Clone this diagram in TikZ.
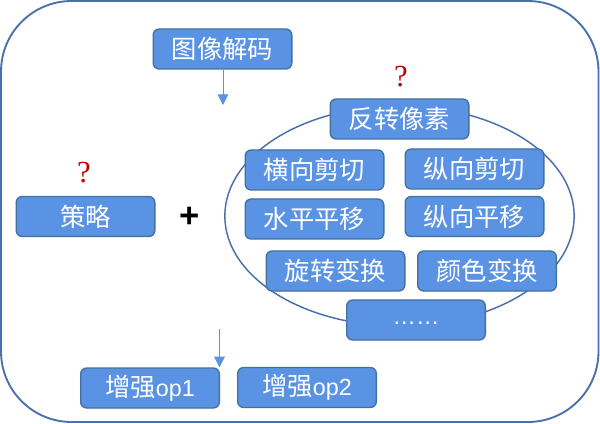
\documentclass[tikz,border=0pt]{standalone}
\usepackage{fontspec}
\setmainfont{Liberation Sans}
\newfontfamily\cjk{Noto Sans CJK SC}
\definecolor{boxfill}{HTML}{5B93E4}
\definecolor{boxedge}{HTML}{41719C}
\definecolor{frameedge}{HTML}{4A70AC}
\definecolor{arrowc}{HTML}{5B93E0}
\definecolor{qred}{HTML}{C00000}
\usetikzlibrary{arrows.meta,shapes.geometric}
\newcommand{\latintext}[1]{{\rmfamily\fontsize{17.5}{18}\selectfont #1}}
\tikzset{
  opbox/.style={draw=boxedge,line width=1pt,fill=boxfill,rounded corners=4.5pt,text=white,
    minimum width=104pt,minimum height=30pt,inner sep=0pt,font=\cjk\fontsize{19}{20}\selectfont},
  flow/.style={draw=arrowc,line width=0.7pt,-{Triangle[length=8pt,width=8pt]}},
  qmark/.style={text=qred,inner sep=0pt,font=\fontsize{23}{24}\selectfont\fontspec{Liberation Serif}}
}
\begin{document}
\begin{tikzpicture}[x=0.75pt,y=-0.75pt]
\useasboundingbox (0,0) rectangle (600,424);
\fill[white] (0,0) rectangle (600,424);
\draw[frameedge,line width=1.4pt,rounded corners=53pt] (1,1) rectangle (598.5,422);
\node[ellipse,draw=frameedge,line width=1.1pt,minimum width=262pt,minimum height=165pt,inner sep=0pt] (oval) at (399.5,216) {};
\node[opbox] (decode) at (222.5,49) {图像解码};
\node[opbox] (policy) at (85.5,216.5) {策略};
\node[opbox] (flip) at (399.5,119) {反转像素};
\node[opbox] (shearx) at (314.5,170) {横向剪切};
\node[opbox] (sheary) at (474.5,169) {纵向剪切};
\node[opbox] (transx) at (314.5,219) {水平平移};
\node[opbox] (transy) at (474.5,216.5) {纵向平移};
\node[opbox] (rotate) at (335.5,271) {旋转变换};
\node[opbox] (color) at (487,271) {颜色变换};
\node[opbox] (more) at (416,320) {\smash{\raisebox{-3.5pt}{\latintext{……}}}};
\node[opbox] (opa) at (150,388) {增强\latintext{op1}};
\node[opbox] (opb) at (307,387.5) {增强\latintext{op2}};
\node[qmark] (qa) at (84,173) {?};
\node[qmark] (qb) at (401,77) {?};
\node[inner sep=0pt,font=\fontsize{26}{28}\selectfont\bfseries] (plus) at (190,217) {+};
\coordinate (enda) at (223,105);
\coordinate (startb) at (219.5,329);
\draw[flow] (decode.south) ++(0.5,0) -- (enda);
\draw[flow] (startb) -- (opa.north -| startb);
\end{tikzpicture}
\end{document}
